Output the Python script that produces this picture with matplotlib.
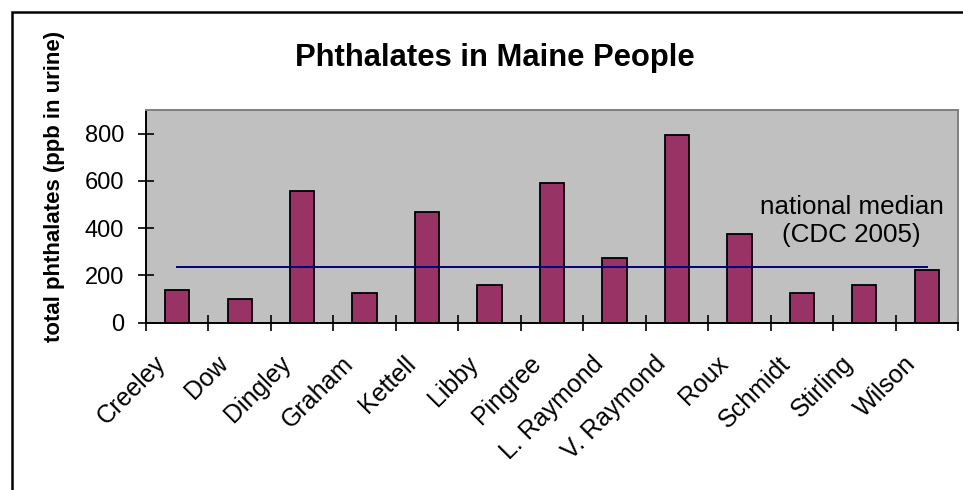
#!/usr/bin/env python3
"""Phthalates in Maine People: bar chart with national median line."""

import matplotlib

matplotlib.use("Agg")
import matplotlib.pyplot as plt
import matplotlib.transforms as mtransforms
from matplotlib.patches import Rectangle
import numpy as np

PEOPLE = [
    "Creeley", "Dow", "Dingley", "Graham", "Kettell", "Libby", "Pingree",
    "L. Raymond", "V. Raymond", "Roux", "Schmidt", "Stirling", "Wilson",
]
PHTHALATES_PPB = [137, 101, 555, 127, 468, 161, 589, 272, 796, 375, 127, 161, 221]
NATIONAL_MEDIAN = 237
Y_TICKS = [0, 200, 400, 600, 800]

BAR_COLOR = "#993366"
LINE_COLOR = "#000080"
PLOT_BG = "#C0C0C0"

plt.rcParams["font.family"] = ["Liberation Sans", "DejaVu Sans"]

fig = plt.figure(figsize=(9.63, 4.9), dpi=100)
fig.patch.set_facecolor("white")

# outer chart border (runs off the right and bottom of the image)
fig.patches.append(
    Rectangle((0.0125, -0.2), 1.2, 0.9755 + 0.2, transform=fig.transFigure,
              fill=False, edgecolor="black", linewidth=1.8, zorder=0)
)

ax = fig.add_axes([0.1516, 0.3418, 0.8432, 0.4337])
ax.set_facecolor(PLOT_BG)

x = np.arange(len(PEOPLE))
ax.bar(x, PHTHALATES_PPB, width=0.39, color=BAR_COLOR, edgecolor="black",
       linewidth=1.3, zorder=2)
ax.plot(x, [NATIONAL_MEDIAN] * len(PEOPLE), color=LINE_COLOR, linewidth=1.4, zorder=3)

ax.text(10.8, 430, "national median\n(CDC 2005)", ha="center", va="center",
        fontsize=18.7, linespacing=1.2, color="black", zorder=4)

ax.set_xlim(-0.5, len(PEOPLE) - 0.5)
ax.set_ylim(0, 900)
ax.set_yticks(Y_TICKS)
ax.tick_params(axis="y", direction="inout", length=11.5, width=1.2, pad=10,
               labelsize=17)

# category boundaries carry the tick marks, centres carry the labels
ax.set_xticks(np.arange(-0.5, len(PEOPLE)), labels=[])
ax.set_xticks(x, labels=PEOPLE, minor=True)
ax.tick_params(axis="x", which="major", direction="inout", length=11.5, width=1.2)
ax.tick_params(axis="x", which="minor", length=0, pad=27, labelsize=18)
shift = mtransforms.ScaledTranslation(-0.15, 0, fig.dpi_scale_trans)
for lab in ax.get_xticklabels(minor=True):
    lab.set_rotation(45)
    lab.set_ha("right")
    lab.set_va("center")
    lab.set_rotation_mode("anchor")
    lab.set_transform(lab.get_transform() + shift)

for side in ("left", "bottom"):
    ax.spines[side].set_color("black")
    ax.spines[side].set_linewidth(1.4)
for side in ("top", "right"):
    ax.spines[side].set_color("#808080")
    ax.spines[side].set_linewidth(1.4)

fig.text(0.514, 0.882, "Phthalates in Maine People", ha="center", va="center",
         fontsize=22.3, fontweight="bold")
fig.text(0.057, 0.62, "total phthalates (ppb in urine)", ha="center", va="center",
         rotation=90, fontsize=16, fontweight="bold")

fig.savefig("out.png", dpi=100)
